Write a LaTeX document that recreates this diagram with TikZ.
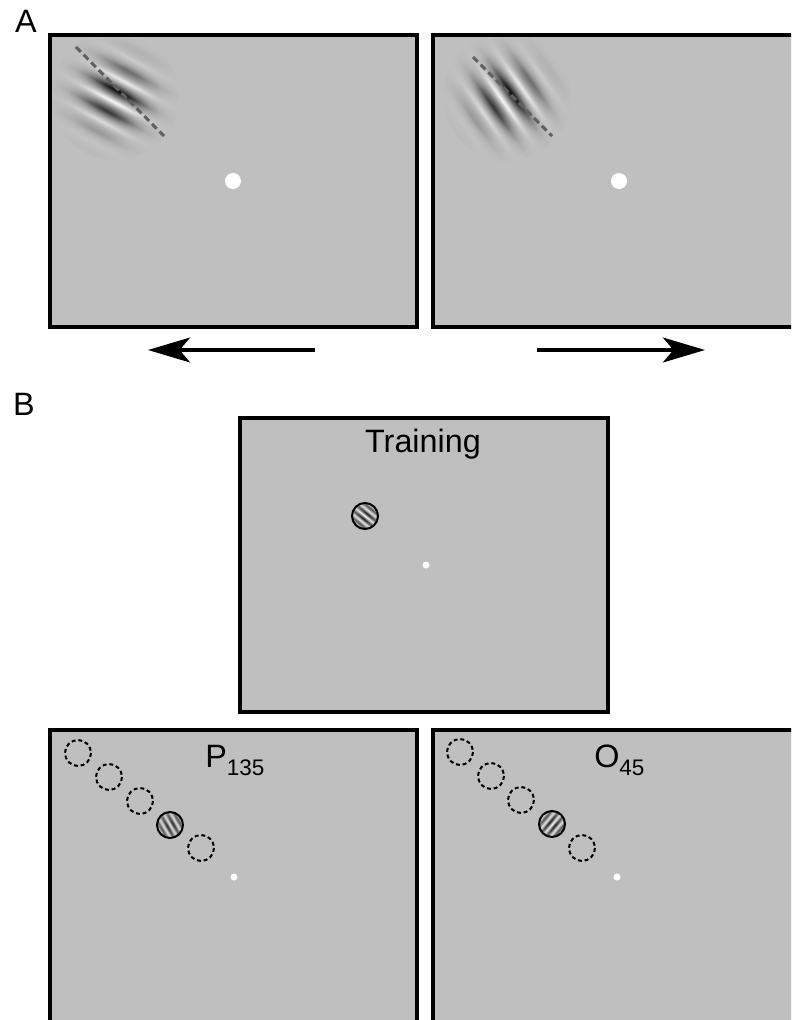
\documentclass[tikz,border=0pt]{standalone}
\usepackage{fontspec}
\setmainfont{Liberation Sans}
\usetikzlibrary{arrows.meta,fadings}

\definecolor{screen}{RGB}{191,191,191}
\definecolor{guide}{RGB}{96,96,96}

% sinusoid-like gratings (big and small patches)
\pgfdeclarehorizontalshading{gratingbig}{100bp}{color(0bp)=(black);
  color(20.75bp)=(black); color(25.25bp)=(white); color(29.75bp)=(black);
  color(34.25bp)=(white); color(38.75bp)=(black); color(43.25bp)=(white);
  color(47.75bp)=(black); color(52.25bp)=(white); color(56.75bp)=(black);
  color(61.25bp)=(white); color(65.75bp)=(black); color(70.25bp)=(white);
  color(74.75bp)=(black); color(79.25bp)=(white); color(100bp)=(white)}
\pgfdeclarehorizontalshading{gratingsmall}{100bp}{color(0bp)=(screen);
  color(20bp)=(screen); color(26bp)=(white); color(32bp)=(black); color(38bp)=(white);
  color(44bp)=(black); color(50bp)=(white); color(56bp)=(black); color(62bp)=(white);
  color(68bp)=(black); color(74bp)=(white); color(80bp)=(screen); color(100bp)=(screen)}

% gaussian envelope
\pgfdeclareradialshading{envshade}{\pgfpointorigin}{color(0bp)=(white);
  color(4bp)=(white!87!black); color(8bp)=(white!57!black);
  color(12bp)=(white!28!black); color(16bp)=(white!10!black);
  color(20bp)=(white!3!black); color(25bp)=(black); color(50bp)=(black)}
\begin{tikzfadingfrompicture}[name=gaborenv]
  \shade[shading=envshade] (-1cm,-1cm) rectangle (1cm,1cm);
\end{tikzfadingfrompicture}
\tikzfading[name=patchenv, inner color=transparent!0, outer color=transparent!55]

\begin{document}
\begin{tikzpicture}[
  x=0.025cm, y=-0.025cm,
  panel/.style={draw=black, fill=screen, line width=0.08cm},
  gabor/.style={shading=gratingbig, path fading=gaborenv},
  patch/.style={shading=gratingsmall, path fading=patchenv},
  ring/.style={draw=black, line width=0.05cm},
  slot/.style={draw=black, line width=0.05cm, dash pattern=on 0.1cm off 0.07cm},
  fixdot/.style={fill=white},
  label/.style={font=\fontsize{23}{23}\selectfont},
  guideline/.style={draw=guide, line width=0.075cm, dash pattern=on 0.17cm off 0.1cm},
  motion/.style={line width=0.1cm, -{Stealth[length=1.05cm, width=0.62cm, inset=0.26cm]}}]
  \useasboundingbox (0,0) rectangle (791,1020);
  \clip (0,0) rectangle (791,1020);

  % panel A
  \node[label, anchor=base] (A) at (26,32) {A};
  \draw[panel] (50,35) rectangle (417,327);
  \draw[panel] (433,35) rectangle (800,327);
  \coordinate (GL) at (115,96);
  \coordinate (GR) at (507,97);
  \shade[gabor, shading angle=-118] (GL) circle (64);
  \shade[gabor, shading angle=-145] (GR) circle (64);
  \coordinate (DLs) at (76,47);
  \coordinate (DLe) at (164,136);
  \coordinate (DRs) at (473,57);
  \coordinate (DRe) at (552,136);
  \draw[guideline] (DLs) -- (DLe);
  \draw[guideline] (DRs) -- (DRe);
  \fill[fixdot] (233,181) circle (8);
  \fill[fixdot] (619,181) circle (8);
  \coordinate (ML) at (315,350);
  \coordinate (MLe) at (148,350);
  \coordinate (MR) at (537,350);
  \coordinate (MRe) at (705,350);
  \draw[motion] (ML) -- (MLe);
  \draw[motion] (MR) -- (MRe);

  % panel B
  \node[label, anchor=base] (B) at (24,415) {B};
  \draw[panel] (240,418) rectangle (608,712);
  \node[label, anchor=base] (T) at (423,452) {Training};
  \shade[patch, shading angle=-129] (365,516) circle (13);
  \draw[ring] (365,516) circle (13);
  \fill[fixdot] (426,565) circle (3.5);

  \draw[panel] (50,730) rectangle (417,1030);
  \draw[panel] (433,730) rectangle (800,1030);
  \node[label, anchor=base west, inner sep=0pt] (P) at (205,767)
    {P\raisebox{-0.2cm}{\fontsize{16}{16}\selectfont 135}};
  \node[label, anchor=base west, inner sep=0pt] (O) at (594,767)
    {O\raisebox{-0.2cm}{\fontsize{16}{16}\selectfont 45}};
  \foreach \cx/\cy in {78/753, 109/777, 140/801, 201/848}
    \draw[slot] (\cx,\cy) circle (13);
  \shade[patch, shading angle=-150] (170,825) circle (13);
  \draw[ring] (170,825) circle (13);
  \fill[fixdot] (234,877) circle (3.5);
  \foreach \cx/\cy in {460/752, 491/776, 521/800, 582/848}
    \draw[slot] (\cx,\cy) circle (13);
  \shade[patch, shading angle=-40] (552,824) circle (13);
  \draw[ring] (552,824) circle (13);
  \fill[fixdot] (617,877) circle (3.5);
\end{tikzpicture}
\end{document}
